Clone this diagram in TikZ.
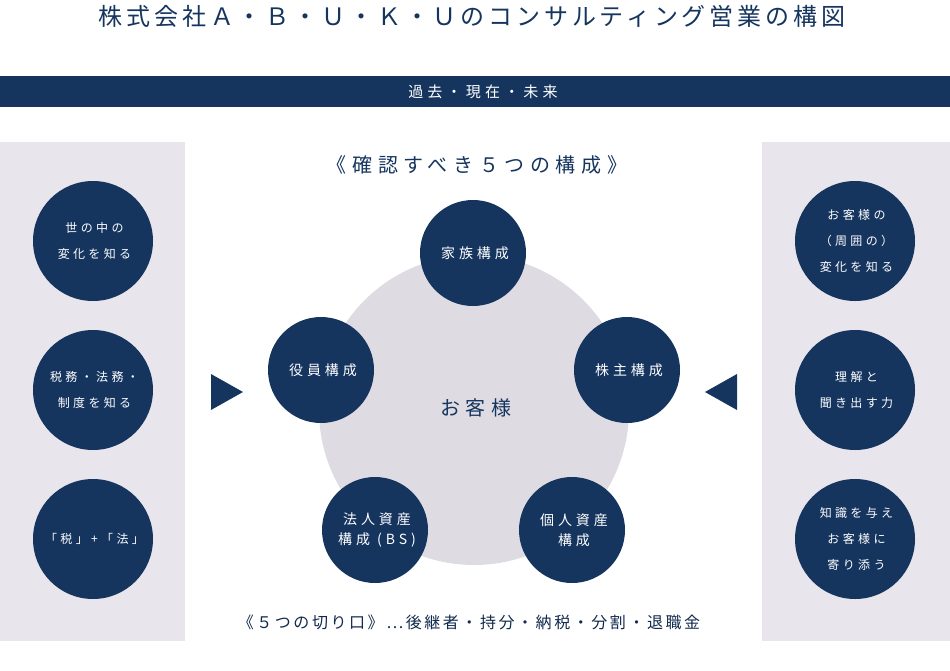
\documentclass[tikz,border=0pt]{standalone}
\usepackage{fontspec}
\newfontfamily\jp{Noto Sans CJK JP}
\newfontfamily\jpw{Noto Sans CJK JP}[LetterSpace=28]
\newfontfamily\jpt{Noto Sans CJK JP}[LetterSpace=16]
\definecolor{navy}{HTML}{15355F}
\definecolor{panel}{HTML}{E8E6EC}
\definecolor{core}{HTML}{DEDCE2}
\begin{document}
\begin{tikzpicture}[x=1pt,y=-1pt,font=\jp,
  side/.style={circle,fill=navy,minimum size=120pt,inner sep=0pt,text=white,align=center,font=\jpw\fontsize{12}{26}\selectfont},
  part/.style={circle,fill=navy,minimum size=106pt,inner sep=0pt,text=white,align=center,font=\jpw\fontsize{14}{20}\selectfont},
  tri/.style={fill=navy,draw=none}]
\useasboundingbox (0,0) rectangle (950,670);
\node[text=navy,font=\jpt\fontsize{24}{28}\selectfont] (title) at (472,16) {株式会社Ａ・Ｂ・Ｕ・Ｋ・Ｕのコンサルティング営業の構図};
\fill[navy] (0,76) rectangle (950,107);
\node[text=white,font=\jpw\fontsize{15}{17}\selectfont] (band) at (483,91.5) {過去・現在・未来};
\fill[panel] (0,142) rectangle (185,641);
\fill[panel] (762,142) rectangle (950,641);
\fill[core] (474,410) circle (155);
\node[text=navy,font=\jpw\fontsize{20}{24}\selectfont] (head) at (477,165) {《確認すべき５つの構成》};
\node[side] (l1) at (93,241) {\hspace{3pt}世の中の\\\hspace{3pt}変化を知る};
\node[side] (l2) at (93,390) {\hspace{3pt}税務・法務・\\\hspace{3pt}制度を知る};
\node[side] (l3) at (93,539) {\hspace{3pt}「税」+「法」};
\node[side] (r1) at (855,241) {\hspace{3pt}お客様の\\\hspace{3pt}（周囲の）\\\hspace{3pt}変化を知る};
\node[side] (r2) at (855,390) {\hspace{3pt}理解と\\\hspace{3pt}聞き出す力};
\node[side] (r3) at (855,539) {\hspace{3pt}知識を与え\\\hspace{3pt}お客様に\\\hspace{3pt}寄り添う};
\node[part] (p1) at (473,253) {\hspace{4pt}家族構成};
\node[part] (p2) at (321,370) {\hspace{4pt}役員構成};
\node[part] (p3) at (627,370) {\hspace{4pt}株主構成};
\node[part] (p4) at (375,530) {\hspace{4pt}法人資産\\\hspace{4pt}構成 (BS)};
\node[part] (p5) at (572,530) {\hspace{4pt}個人資産\\\hspace{4pt}構成};
\node[text=navy,font=\jpw\fontsize{20}{24}\selectfont] (cust) at (476,408) {お客様};
\fill[tri] (211,374) -- (243,392) -- (211,410) -- cycle;
\fill[tri] (737,374) -- (705,392) -- (737,410) -- cycle;
\node[text=navy!80!black,font=\jpt\fontsize{16}{18}\selectfont] (foot) at (469,622) {《５つの切り口》…後継者・持分・納税・分割・退職金};
\end{tikzpicture}
\end{document}
